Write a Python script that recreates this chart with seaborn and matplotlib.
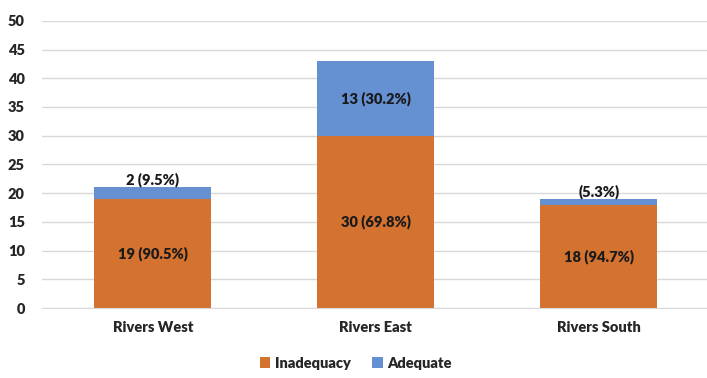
import matplotlib
matplotlib.use("Agg")
import matplotlib.pyplot as plt
import seaborn as sns
import pandas as pd

regions = ["Rivers West", "Rivers East", "Rivers South"]
inadequacy = [19, 30, 18]
adequate = [2, 13, 1]
inadequacy_labels = ["19 (90.5%)", "30 (69.8%)", "18 (94.7%)"]
adequate_labels = ["2 (9.5%)", "13 (30.2%)", "(5.3%)"]

orange = "#D4722F"
blue = "#6591D3"

sns.set_style("white")
plt.rcParams['font.family'] = ['Lato', 'DejaVu Sans']

df = pd.DataFrame({"Region": regions, "Inadequacy": inadequacy, "Adequate": adequate})
df["Total"] = df["Inadequacy"] + df["Adequate"]

fig = plt.figure(figsize=(7.07, 3.78), dpi=100)
ax = fig.add_axes([0.0587, 0.185, 0.946, 0.76])

sns.barplot(data=df, x="Region", y="Total", color=blue, width=0.525, ax=ax,
            saturation=1, label="Adequate", linewidth=0)
sns.barplot(data=df, x="Region", y="Inadequacy", color=orange, width=0.525, ax=ax,
            saturation=1, label="Inadequacy", linewidth=0)

ax.set_xlim(-0.5, 2.5)
ax.set_ylim(0, 50)
ax.set_yticks(range(0, 51, 5))
ax.yaxis.grid(True, color="#d9d9d9", linewidth=1)
ax.set_axisbelow(True)
for s in ["top", "right", "left"]:
    ax.spines[s].set_visible(False)
ax.spines["bottom"].set_color("#d9d9d9")
ax.set_xlabel("")
ax.set_ylabel("")
ax.tick_params(axis="both", length=0, labelsize=10.5)
ax.tick_params(axis="y", pad=12)
ax.tick_params(axis="x", pad=9)
for lab in ax.get_xticklabels() + ax.get_yticklabels():
    lab.set_fontweight("heavy")

for i in range(len(regions)):
    ax.text(i, inadequacy[i] / 2, inadequacy_labels[i], ha="center", va="center",
            fontsize=10.5, fontweight="heavy", color="#1a1a1a")
    if adequate[i] >= 3:
        ax.text(i, inadequacy[i] + adequate[i] / 2, adequate_labels[i], ha="center",
                va="center", fontsize=10.5, fontweight="heavy", color="#1a1a1a")
    else:
        ax.text(i, inadequacy[i] + adequate[i] + 0.05, adequate_labels[i], ha="center",
                va="bottom", fontsize=10.5, fontweight="heavy", color="#1a1a1a")

handles, labels = ax.get_legend_handles_labels()
order = [labels.index("Inadequacy"), labels.index("Adequate")]
ax.legend([handles[k] for k in order], [labels[k] for k in order],
          loc="lower center", bbox_to_anchor=(0.47, -0.25), ncol=2, frameon=False,
          handlelength=0.7, handleheight=0.7, handletextpad=0.3, columnspacing=1.5,
          borderpad=0.2, prop={"weight": "heavy", "size": 10.5})

fig.savefig("out.png", dpi=100)
